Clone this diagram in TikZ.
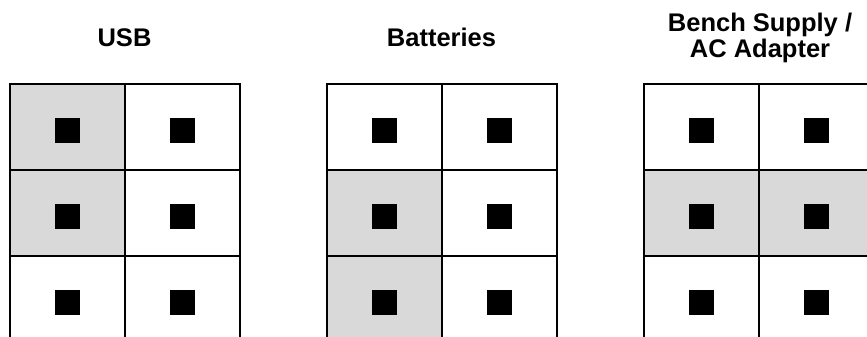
\documentclass[tikz,border=0pt]{standalone}
\usepackage{fontspec}
\setmainfont{Liberation Sans}
\definecolor{cellgray}{HTML}{D9D9D9}
\tikzset{
  cell/.style={draw=black, line width=2pt, minimum width=115pt, minimum height=86pt, anchor=north west, inner sep=0pt, outer sep=0pt},
  shaded/.style={cell, fill=cellgray},
  pad/.style={fill=black, minimum size=25pt, inner sep=0pt, anchor=north},
  title/.style={font=\bfseries\fontsize{25.5}{26}\selectfont, inner sep=0pt, anchor=base}
}
\begin{document}
\begin{tikzpicture}[x=1pt,y=-1pt]
\useasboundingbox (0,0) rectangle (867,337);
\clip (0,0) rectangle (867,337);
% titles
\node[title] (tusb) at (124.5,47) {USB};
\node[title] (tbat) at (441.5,47) {Batteries};
\node[title] (tbena) at (760,32) {Bench Supply /};
\node[title] (tbenb) at (760,58) {AC Adapter};
% grids
\foreach \g/\gx in {1/10,2/327,3/644}{
  \foreach \r in {1,2,3}{
    \foreach \c in {1,2}{
      \pgfmathsetmacro{\cx}{\gx+(\c-1)*115}
      \pgfmathsetmacro{\cy}{84+(\r-1)*86}
      \node[cell] (g\g r\r c\c) at (\cx,\cy) {};
    }
  }
}
% shaded cells
\node[shaded] (s1a) at (10,84) {};
\node[shaded] (s1b) at (10,170) {};
\node[shaded] (s2a) at (327,170) {};
\node[shaded] (s2b) at (327,256) {};
\node[shaded] (s3a) at (644,170) {};
\node[shaded] (s3b) at (759,170) {};
% pads
\foreach \g/\gx in {1/10,2/327,3/644}{
  \foreach \r in {1,2,3}{
    \foreach \c in {1,2}{
      \pgfmathsetmacro{\px}{\gx+(\c-1)*115+57.5}
      \pgfmathsetmacro{\py}{84+(\r-1)*86+34}
      \node[pad] (p\g r\r c\c) at (\px,\py) {};
    }
  }
}
\end{tikzpicture}
\end{document}
